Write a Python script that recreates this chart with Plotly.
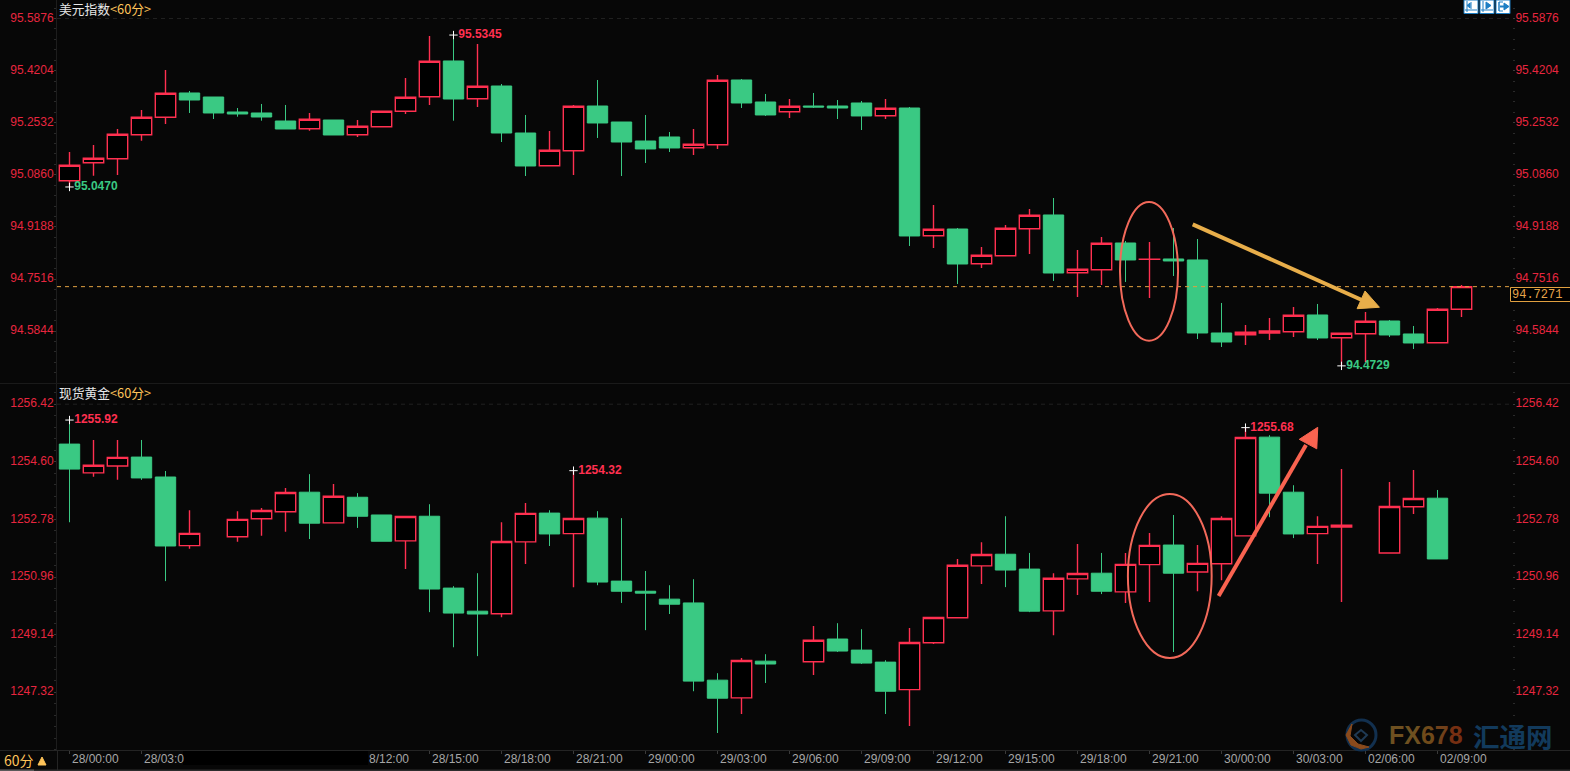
import plotly.graph_objects as go

# ---------- data ----------
usd_open = [95.0671,95.1249,95.1377,95.2147,95.2706,95.3486,95.3357,95.2876,95.2844,95.2587,95.2340,95.2619,95.2147,95.2404,95.2898,95.3367,95.4513,95.3303,95.3710,95.2202,
            95.1153,95.1634,95.3068,95.2555,95.1945,95.2074,95.1730,95.1827,95.3903,95.3197,95.2886,95.3068,95.3068,95.3165,95.2757,95.3004,94.8906,94.9121,94.8008,94.8265,
            94.9131,94.9571,94.7719,94.7815,94.8672,94.8146,94.8159,94.8127,94.5784,94.5729,94.5784,94.5826,94.6362,94.5633,94.5761,94.6169,94.5752,94.5473,94.6545]
usd_high = [95.1592,95.1817,95.2330,95.2940,95.4224,95.3550,95.3357,95.3004,95.3133,95.3101,95.2844,95.2619,95.2619,95.2898,95.3967,95.5315,95.5345,95.5058,95.3774,95.2780,
            95.2266,95.3101,95.3903,95.2555,95.2780,95.2234,95.2330,95.4063,95.3935,95.3454,95.3293,95.3486,95.3261,95.3229,95.3293,95.3036,94.9892,94.9153,94.8544,94.9250,
            94.9763,95.0116,94.8447,94.8865,94.8736,94.8704,94.9153,94.8800,94.6747,94.6041,94.6265,94.6618,94.6715,94.5774,94.6458,94.6201,94.6009,94.6586,94.7324]
usd_low = [95.0470,95.0832,95.0854,95.1955,95.2491,95.2844,95.2651,95.2725,95.2597,95.2330,95.2276,95.2138,95.2074,95.2404,95.2812,95.3101,95.2597,95.3036,95.1913,95.0822,
           95.1153,95.0854,95.2042,95.0822,95.1239,95.1592,95.1496,95.1689,95.3004,95.2748,95.2683,95.3004,95.2651,95.2298,95.2651,94.8576,94.8512,94.7356,94.7870,94.8265,
           94.8319,94.7453,94.6939,94.7324,94.7421,94.6907,94.7613,94.5591,94.5335,94.5399,94.5559,94.5656,94.5559,94.4729,94.4853,94.5656,94.5271,94.5473,94.6297]
usd_close = [95.1166,95.1390,95.2160,95.2706,95.3476,95.3261,95.2844,95.2812,95.2715,95.2330,95.2642,95.2138,95.2417,95.2898,95.3348,95.4503,95.3293,95.3701,95.2202,95.1143,
             95.1647,95.3059,95.2523,95.1913,95.1689,95.1721,95.1839,95.3893,95.3165,95.2780,95.3059,95.3036,95.3004,95.2748,95.2995,94.8897,94.9112,94.7998,94.8277,94.9144,
             94.9561,94.7709,94.7828,94.8663,94.8127,94.8149,94.8095,94.5784,94.5495,94.5806,94.5848,94.6352,94.5624,94.5774,94.6160,94.5720,94.5463,94.6545,94.7271]

gold_open = [1255.16,1254.25,1254.47,1254.75,1254.12,1251.95,None,1252.23,1252.80,1253.02,1253.64,1252.67,1253.48,1252.92,1252.10,1252.88,1250.61,1249.88,1249.80,1252.07,
             1252.98,1252.33,1252.82,1250.83,1250.51,1250.26,1250.14,1247.70,1247.14,1248.30,None,1248.28,1249.00,1248.65,1248.27,1247.40,1248.88,1249.67,1251.31,1251.68,
             1251.21,1249.89,1250.90,1251.08,1250.49,1251.35,1251.97,1251.12,1251.38,1252.26,1255.38,1253.64,1252.33,1252.54,None,1251.72,1253.18,1253.45,None]
gold_high = [1255.92,1255.29,1255.29,1255.29,1254.31,1253.07,None,1253.04,1253.14,1253.77,1254.21,1253.90,1253.61,1252.92,1252.87,1253.26,1250.67,1251.08,1252.69,1253.30,
             1253.07,1254.32,1253.04,1252.82,1251.15,1250.70,1250.89,1247.92,1248.40,1248.52,None,1249.41,1249.50,1249.31,1248.33,1249.35,1249.68,1251.53,1252.06,1252.88,
             1251.72,1251.08,1252.00,1251.72,1251.72,1252.35,1252.92,1251.97,1252.88,1255.68,1255.44,1253.86,1252.88,1254.37,None,1253.96,1254.34,1253.71,None]
gold_low = [1252.69,1254.13,1254.03,1254.03,1250.83,1251.85,None,1252.07,1252.26,1252.39,1252.16,1252.67,1252.51,1252.09,1251.21,1249.85,1248.74,1248.46,1249.69,1251.37,
            1251.94,1250.64,1250.70,1250.14,1249.28,1249.79,1247.35,1246.03,1246.63,1247.61,None,1247.86,1248.59,1248.21,1246.63,1246.25,1248.84,1249.67,1250.74,1250.64,
            1249.85,1249.12,1250.39,1250.42,1250.14,1250.17,1248.59,1250.51,1250.86,1252.26,1252.85,1252.19,1251.37,1250.17,None,1251.72,1252.95,1251.53,None]
gold_close = [1254.37,1254.49,1254.74,1254.09,1251.94,1252.34,None,1252.78,1253.06,1253.63,1252.66,1253.51,1252.88,1252.09,1252.87,1250.58,1249.82,1249.79,1252.08,1252.97,
              1252.32,1252.81,1250.80,1250.51,1250.45,1250.10,1247.67,1247.13,1248.32,1248.21,None,1248.96,1248.62,1248.24,1247.35,1248.89,1249.68,1251.33,1251.67,1251.18,
              1249.88,1250.92,1251.07,1250.51,1251.36,1251.96,1251.08,1251.39,1252.81,1255.37,1253.61,1252.32,1252.56,1252.60,None,1253.19,1253.44,1251.53,None]

usd_ticks = [95.5876,95.4204,95.2532,95.0860,94.9188,94.7516,94.5844]
gold_ticks = [1256.42,1254.60,1252.78,1250.96,1249.14,1247.32]
usd_tick_text = ["95.5876","95.4204","95.2532","95.0860","94.9188","94.7516","94.5844"]
gold_tick_text = ["1256.42","1254.60","1252.78","1250.96","1249.14","1247.32"]

time_idx = [0,3,12,15,18,21,24,27,30,33,36,39,42,45,48,51,54,57]
time_labels = ["28/00:00","28/03:0","8/12:00","28/15:00","28/18:00","28/21:00","29/00:00","29/03:00","29/06:00",
               "29/09:00","29/12:00","29/15:00","29/18:00","29/21:00","30/00:00","30/03:00","02/06:00","02/09:00"]
time_tick_idx = [0,3,15,18,21,24,27,30,33,36,39,42,45,48,51,54,57]

usd_extreme_idx = [0,16,53]
usd_extreme_val = [95.0470,95.5345,94.4729]
gold_extreme_idx = [0,21,49]
gold_extreme_val = [1255.92,1254.32,1255.68]
usd_last = 94.7271

# ---------- style ----------
W, H = 1570, 771
BG = "#070707"
RED = "#ff3050"
GREEN = "#3ac983"
TXT_RED = "#e8263f"
ORANGE = "#ffc45a"
GRAY = "#a6a6a6"
x = list(range(len(usd_open)))
FONT = "Liberation Sans"
CJK = "Noto Sans CJK SC"

def px(xp, yp):
    return xp / W, 1 - yp / H

fig = go.Figure()

def candles(o, h, l, c, yaxis):
    fig.add_trace(go.Candlestick(
        x=x, open=o, high=h, low=l, close=c, yaxis=yaxis, xaxis="x", whiskerwidth=0,
        increasing=dict(line=dict(color=RED, width=1.4), fillcolor="#000000"),
        decreasing=dict(line=dict(color=GREEN, width=1), fillcolor=GREEN),
        hoverinfo="skip", showlegend=False))

candles(usd_open, usd_high, usd_low, usd_close, "y")
candles(gold_open, gold_high, gold_low, gold_close, "y2")

# carrier traces so the right-hand axes are drawn
fig.add_trace(go.Scatter(x=x, y=usd_close, yaxis="y3", mode="lines", line=dict(color="rgba(0,0,0,0)"), hoverinfo="skip", showlegend=False))
fig.add_trace(go.Scatter(x=x, y=gold_close, yaxis="y4", mode="lines", line=dict(color="rgba(0,0,0,0)"), hoverinfo="skip", showlegend=False))

def extremes(idx, val, fmt, colors, yaxis):
    fig.add_trace(go.Scatter(
        x=idx, y=val, yaxis=yaxis, mode="markers+text",
        marker=dict(symbol="cross-thin", size=6, line=dict(color="#ffffff", width=1)),
        text=[fmt.format(v) for v in val], textposition="middle right",
        textfont=dict(family=FONT, size=12, color=colors, weight="bold"),
        hoverinfo="skip", showlegend=False))

extremes(usd_extreme_idx, usd_extreme_val, "{:.4f}", [GREEN, RED, GREEN], "y")
extremes(gold_extreme_idx, gold_extreme_val, "{:.2f}", [RED, RED, RED], "y2")

XR = [(57 - 69.5) / 24, (1512 - 69.5) / 24]
XDOM = [57 / W, 1512 / W]
TOP_DOM = [(H - 383) / H, 1]
BOT_DOM = [(H - 750) / H, (H - 384) / H]
TOP_R = [94.4179, 95.6470]
BOT_R = [1245.493, 1257.059]

def yax(dom, rng, vals, text, side, step, base, **kw):
    d = dict(domain=dom, range=rng, tickmode="array", tickvals=vals, ticktext=text, side=side,
             tickfont=dict(family=FONT, size=12, color=TXT_RED), ticks="outside", ticklen=2,
             tickcolor="#3a3a3a", showgrid=False, zeroline=False, fixedrange=True,
             ticklabelshift=-1, ticklabelstandoff=-2,
             minor=dict(dtick=step, tick0=base, ticks="outside", ticklen=2, tickcolor="#2a2a2a", showgrid=False))
    d.update(kw)
    return d

fig.update_layout(
    width=W, height=H, margin=dict(l=0, r=0, t=0, b=0), autosize=False,
    paper_bgcolor=BG, plot_bgcolor=BG, boxgap=0.15, boxgroupgap=0, showlegend=False,
    xaxis=dict(domain=XDOM, range=XR, anchor="y2", rangeslider=dict(visible=False), tickmode="array",
               tickvals=time_tick_idx, ticks="outside", ticklen=3, tickcolor="#3a3a3a",
               showticklabels=False, showgrid=False, zeroline=False, showline=False, fixedrange=True),
    yaxis=yax(TOP_DOM, TOP_R, usd_ticks, usd_tick_text, "left", 0.03344, 94.5844, anchor="x", showline=True, linecolor="#1d1d1d"),
    yaxis2=yax(BOT_DOM, BOT_R, gold_ticks, gold_tick_text, "left", 0.364, 1247.32, anchor="x", showline=True, linecolor="#1d1d1d"),
    yaxis3=yax(TOP_DOM, TOP_R, usd_ticks, usd_tick_text, "right", 0.03344, 94.5844, anchor="x", overlaying="y"),
    yaxis4=yax(BOT_DOM, BOT_R, gold_ticks, gold_tick_text, "right", 0.364, 1247.32, anchor="x", overlaying="y2"),
)

# ---------- frame and overlays ----------
shapes = []
def rect_px(x0, y0, x1, y1, fill, line=None, lw=1, layer="above"):
    a, b = px(x0, y0); c, d = px(x1, y1)
    shapes.append(dict(type="rect", xref="paper", yref="paper", x0=a, y0=b, x1=c, y1=d, fillcolor=fill,
                       line=dict(color=line or fill, width=lw if line else 0), layer=layer))
def line_px(x0, y0, x1, y1, color, lw=1, dash=None):
    a, b = px(x0, y0); c, d = px(x1, y1)
    shapes.append(dict(type="line", xref="paper", yref="paper", x0=a, y0=b, x1=c, y1=d,
                       line=dict(color=color, width=lw, dash=dash or "solid")))
def path_px(pts, color, fill=None, lw=1, close=True):
    s = ""
    for i, (a, b) in enumerate(pts):
        u, v = px(a, b)
        s += ("M" if i == 0 else "L") + f"{u:.6f},{v:.6f} "
    if close:
        s += "Z"
    shapes.append(dict(type="path", xref="paper", yref="paper", path=s, fillcolor=fill or "rgba(0,0,0,0)",
                       line=dict(color=color, width=lw)))

line_px(0, 383.5, W, 383.5, "#1a1a1a")
line_px(0, 750.5, W, 750.5, "#242424")
line_px(57.5, 750, 57.5, 770, "#242424")
rect_px(0, 769.5, W, 771, "#2c2c2c")
rect_px(0, 769.5, 34, 771, "#5a5a5a")
rect_px(183, 751, 368, 765, "#000000")

for ref, val in (("y", usd_ticks[0]), ("y2", gold_ticks[0])):
    shapes.append(dict(type="line", xref="x domain", yref=ref, x0=0, x1=1, y0=val, y1=val,
                       line=dict(color="#202020", width=1, dash="4px,4px")))
# last price line and box
shapes.append(dict(type="line", xref="x domain", yref="y", x0=0, x1=1, y0=usd_last, y1=usd_last,
                   line=dict(color="#e0a040", width=1, dash="4px,4px")))
rect_px(1510.5, 287.5, 1572, 301.5, "#000000", "#e0a040", 1)

# hand-drawn marks, placed in chart coordinates
ELL = "#f2695a"
shapes.append(dict(type="circle", xref="x", yref="y", x0=43.77, x1=46.19, y0=94.5537, y1=94.9988,
                   line=dict(color=ELL, width=2)))
shapes.append(dict(type="circle", xref="x", yref="y2", x0=44.10, x1=47.59, y0=1248.40, y1=1253.583,
                   line=dict(color=ELL, width=2)))
ORG_A = "#e8ae4a"
shapes.append(dict(type="line", xref="x", yref="y", x0=46.80, y0=94.9272, x1=53.94, y1=94.6811,
                   line=dict(color=ORG_A, width=4)))
shapes.append(dict(type="path", xref="x", yref="y", path="M53.98,94.7132 L54.58,94.6609 L53.65,94.6564 Z",
                   fillcolor=ORG_A, line=dict(color=ORG_A, width=1)))
RED_A = "#f96350"
shapes.append(dict(type="line", xref="x", yref="y2", x0=47.88, y0=1250.36, x1=51.52, y1=1255.13,
                   line=dict(color=RED_A, width=4)))
shapes.append(dict(type="path", xref="x", yref="y2", path="M52.01,1255.69 L51.24,1255.31 L51.97,1255.01 Z",
                   fillcolor=RED_A, line=dict(color=RED_A, width=1)))

# toolbar icons
BLUE = "#1f7fc4"
for x0 in (1464, 1480, 1496):
    rect_px(x0, 0, x0 + 14, 13.5, "#ffffff", BLUE, 1)
for x0 in (1464, 1480):
    line_px(x0 + 3, 1, x0 + 3, 12, BLUE, 1)
    line_px(x0 + 1, 10, x0 + 13, 10, BLUE, 1)
path_px([(1470, 3), (1470, 8), (1467, 5.5)], BLUE, BLUE)
line_px(1471, 2, 1471, 9, BLUE, 1)
path_px([(1486, 2), (1486, 9), (1491, 5.5)], BLUE, BLUE)
line_px(1499, 2, 1499, 11, BLUE, 1.5)
line_px(1499, 2, 1503, 2, BLUE, 1)
line_px(1499, 11, 1503, 11, BLUE, 1)
path_px([(1504, 3), (1504, 10), (1509, 6.5)], BLUE, BLUE)
line_px(1500, 6.5, 1504, 6.5, BLUE, 2)

# bottom-left triangle
path_px([(42, 757), (46, 765), (38, 765)], "#ffc45a", "#ffc45a")

# watermark logo
a, b = px(1347, 720); c, d = px(1376, 750)
shapes.append(dict(type="circle", xref="paper", yref="paper", x0=a, y0=b, x1=c, y1=d, line=dict(color="#12304f", width=3)))
path_px([(1352, 724), (1346, 735), (1351, 745), (1361, 749), (1369, 747), (1358, 744), (1350, 736)], "#8a4a1c", "#8a4a1c")
path_px([(1361, 730), (1367, 735), (1361, 741), (1355, 735)], "#1f3a54", None, 2)

fig.update_layout(shapes=shapes)

# ---------- text ----------
anns = []
def text_px(xp, yp, s, size=12, color=GRAY, fam=FONT, anchor="left"):
    a, b = px(xp, yp)
    anns.append(dict(xref="paper", yref="paper", x=a, y=b, text=s, showarrow=False, xanchor=anchor, yanchor="middle",
                     font=dict(family=fam, size=size, color=color), align="left", borderpad=0, borderwidth=0))

def title(yp, name):
    text_px(59, yp, f"<span style='color:#e8e8e8'>{name}</span><span style='color:{ORANGE}'>&lt;60分&gt;</span>", 12.75, "#e8e8e8", CJK)
title(9, "美元指数")
title(392, "现货黄金")

text_px(1512, 294.5, f"{usd_last:.4f}", 12, "#e6a44a", "Liberation Mono")
text_px(4, 760, "60分", 14, ORANGE, CJK)

a_, y_ = px(0, 759)
for i, lab in zip(time_idx, time_labels):
    xs = 1.5 if lab != "8/12:00" else 10
    anns.append(dict(xref="x", yref="paper", x=i, y=y_, xshift=xs, text=lab, showarrow=False, xanchor="left", yanchor="middle",
                     font=dict(family=FONT, size=12, color=GRAY), borderpad=0))

text_px(1389, 735, "<b><span style='color:#6e5020'>FX</span><span style='color:#6f4a1a'>6</span><span style='color:#70401a'>7</span><span style='color:#762f12'>8</span></b>", 25, "#6e5020", FONT)
text_px(1473, 735, "<b>汇通网</b>", 26.5, "#123a5c", CJK)

fig.update_layout(annotations=anns)

fig.write_html("out.html", config={"displayModeBar": False},
               post_script="document.body.style.margin='0';document.body.style.background='#070707';document.documentElement.style.overflow='hidden';")
